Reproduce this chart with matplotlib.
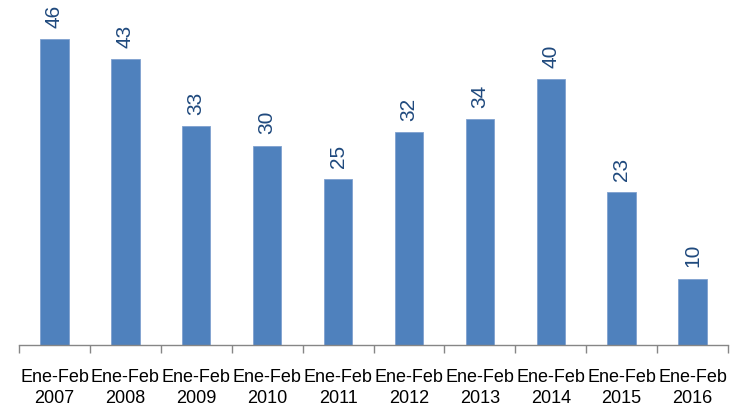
import matplotlib
matplotlib.use("Agg")
import matplotlib.pyplot as plt
import numpy as np

plt.rcParams["font.family"] = ["Liberation Sans", "DejaVu Sans"]

years = ["2007", "2008", "2009", "2010", "2011", "2012", "2013", "2014", "2015", "2016"]
values = [46, 43, 33, 30, 25, 32, 34, 40, 23, 10]
labels = ["Ene-Feb\n" + y for y in years]

bar_color = "#4F81BD"
text_color = "#1F497D"

fig = plt.figure(figsize=(7.41, 4.08), dpi=100)
ax = fig.add_axes([19 / 741, 63 / 408, 709 / 741, 345 / 408])

x = np.arange(len(values))
ax.bar(x, values, width=0.4, color=bar_color, edgecolor="#7FA1CF", linewidth=0.6, zorder=2)

for xi, v in zip(x, values):
    ax.annotate(str(v), (xi, v), xytext=(0, 8), textcoords="offset points",
                rotation=90, ha="center", va="bottom", fontsize=15, color=text_color)

ax.set_xlim(-0.5, len(values) - 0.5)
ax.set_ylim(0, 51.9)

for s in ["top", "right", "left"]:
    ax.spines[s].set_visible(False)
ax.spines["bottom"].set_color("#868686")
ax.spines["bottom"].set_linewidth(1.0)
ax.set_yticks([])

ax.set_xticks(x)
ax.set_xticklabels(labels, fontsize=13, linespacing=1.35)
ax.set_xticks(np.arange(-0.5, len(values)), minor=True)
ax.tick_params(axis="x", which="major", length=0, pad=17)
ax.tick_params(axis="x", which="minor", length=6, color="#868686", width=1.0)

fig.savefig("out.png", dpi=100)
